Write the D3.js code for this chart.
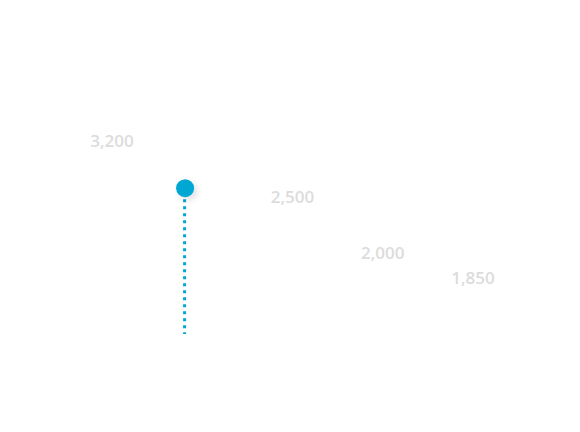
<!DOCTYPE html>
<html>
<head>
<meta charset="utf-8">
<script src="https://cdn.jsdelivr.net/npm/d3@7"></script>
<style>
    html, body { margin: 0; padding: 0; background: #ffffff; }
    svg { display: block; }
</style>
</head>
<body>
<svg width="580" height="432"></svg>
<script>
// data
var steps = [2, 4, 5, 6];
var values = [3200, 2500, 2000, 1850];
var labels = ['3,200', '2,500', '2,000', '1,850'];

// highlighted point (the dot with the dotted drop line)
var markerStep = [2.81];
var markerValue = [2610];

var svg = d3.select('svg');

var xScale = d3.scaleLinear()
    .domain([2, 6])
    .range([112, 473]);

// uneven spacing of the labels, so a piecewise scale
var yScale = d3.scaleLinear()
    .domain([0, 1850, 2000, 2500, 3200])
    .range([334, 278, 253, 197, 141]);

var defs = svg.append('defs');
var shadow = defs.append('filter')
    .attr('id', 'dotShadow')
    .attr('x', '-50%').attr('y', '-50%')
    .attr('width', '220%').attr('height', '220%');
shadow.append('feDropShadow')
    .attr('dx', 3)
    .attr('dy', 3)
    .attr('stdDeviation', 3)
    .attr('flood-color', '#000')
    .attr('flood-opacity', 0.12);

var g = svg.append('g');

g.selectAll('text.value')
    .data(values)
    .enter().append('text')
    .attr('class', 'value')
    .attr('x', function (d, i) { return xScale(steps[i]); })
    .attr('y', function (d) { return yScale(d); })
    .attr('dy', '0.36em')
    .attr('text-anchor', 'middle')
    .attr('font-family', 'Open Sans, sans-serif')
    .attr('font-weight', 600)
    .attr('font-size', 17)
    .attr('fill', '#dcdcdc')
    .text(function (d, i) { return labels[i]; });

var marker = g.selectAll('g.marker')
    .data(markerValue)
    .enter().append('g')
    .attr('class', 'marker');

marker.append('line')
    .attr('x1', function (d, i) { return xScale(markerStep[i]) - 0.5; })
    .attr('x2', function (d, i) { return xScale(markerStep[i]) - 0.5; })
    .attr('y1', function (d) { return yScale(d) + 11; })
    .attr('y2', yScale(0))
    .attr('stroke', '#00a7d3')
    .attr('stroke-width', 3)
    .attr('stroke-dasharray', '3,4');

marker.append('circle')
    .attr('cx', function (d, i) { return xScale(markerStep[i]); })
    .attr('cy', function (d) { return yScale(d); })
    .attr('r', 9)
    .attr('fill', '#00a7d3')
    .attr('filter', 'url(#dotShadow)');
</script>
</body>
</html>
